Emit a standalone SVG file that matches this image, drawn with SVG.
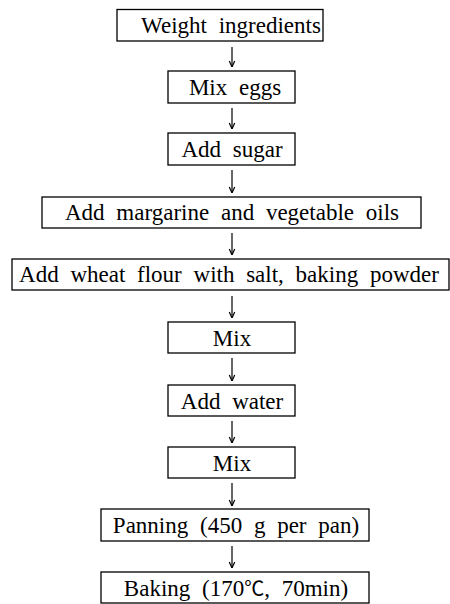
<svg xmlns="http://www.w3.org/2000/svg" width="450" height="604" viewBox="0 0 450 604">
<style>
.box{fill:#fff;stroke:#000;stroke-width:1.3}
.lbl{font-family:"Liberation Serif","Noto Sans CJK KR",serif;font-size:23px;fill:#000;text-anchor:middle;word-spacing:6px}
.arr{fill:none;stroke:#000;stroke-width:1.2}
</style>
<defs>
<marker id="ah" viewBox="0 0 10 10" refX="10" refY="5" markerWidth="10" markerHeight="10" markerUnits="userSpaceOnUse" orient="auto">
<path d="M4,2.3 L10,5 L4,7.7" fill="none" stroke="#000" stroke-width="1.2"/>
</marker>
</defs>
<rect width="450" height="604" fill="#fff"/>
<g id="connectors">
<path class="arr" d="M232,47 V67" marker-end="url(#ah)"/>
<path class="arr" d="M232,108 V129" marker-end="url(#ah)"/>
<path class="arr" d="M232,170 V193" marker-end="url(#ah)"/>
<path class="arr" d="M232,233 V255" marker-end="url(#ah)"/>
<path class="arr" d="M232,296 V318" marker-end="url(#ah)"/>
<path class="arr" d="M232,358 V381" marker-end="url(#ah)"/>
<path class="arr" d="M232,421 V443" marker-end="url(#ah)"/>
<path class="arr" d="M232,483 V506" marker-end="url(#ah)"/>
<path class="arr" d="M232,546 V568" marker-end="url(#ah)"/>
</g>
<g id="n1"><rect class="box" x="117" y="9.5" width="206" height="31.5"/><text class="lbl" x="231" y="33">Weight ingredients</text></g>
<g id="n2"><rect class="box" x="168" y="71" width="127" height="32"/><text class="lbl" x="235" y="95">Mix eggs</text></g>
<g id="n3"><rect class="box" x="168" y="133" width="127" height="32"/><text class="lbl" x="232" y="157">Add sugar</text></g>
<g id="n4"><rect class="box" x="42" y="197" width="379" height="31"/><text class="lbl" x="232" y="220">Add margarine and vegetable oils</text></g>
<g id="n5"><rect class="box" x="12" y="259" width="437" height="31"/><text class="lbl" x="229" y="282">Add wheat flour with salt, baking powder</text></g>
<g id="n6"><rect class="box" x="168" y="322" width="127" height="31"/><text class="lbl" x="232" y="346">Mix</text></g>
<g id="n7"><rect class="box" x="168" y="385" width="127" height="31"/><text class="lbl" x="232" y="409">Add water</text></g>
<g id="n8"><rect class="box" x="168" y="447" width="127" height="31"/><text class="lbl" x="232" y="471">Mix</text></g>
<g id="n9"><rect class="box" x="101" y="509" width="268" height="32"/><text class="lbl" x="236" y="533">Panning (450 g per pan)</text></g>
<g id="n10"><rect class="box" x="101" y="572" width="268" height="31"/><text class="lbl" x="236" y="596">Baking (170<tspan font-size="20">℃</tspan>, 70min)</text></g>
</svg>
